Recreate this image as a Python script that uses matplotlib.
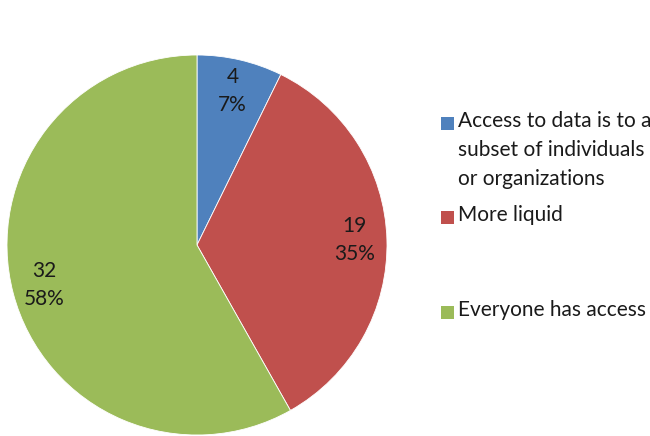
import matplotlib
matplotlib.use('Agg')
import matplotlib.pyplot as plt
import numpy as np
from matplotlib.patches import Rectangle

counts = [4, 19, 32]
labels = ['Access to data is to a\nsubset of individuals\nor organizations',
          'More liquid',
          'Everyone has access']
colors = ['#4F81BD', '#C0504D', '#9BBB59']

plt.rcParams['font.family'] = ['Lato', 'DejaVu Sans']

fig = plt.figure(figsize=(6.5, 4.36), dpi=100)
ax = fig.add_axes([7 / 650, 1 / 436, 380 / 650, 380 / 436])

total = sum(counts)

wedges = ax.pie(counts, colors=colors, startangle=90, counterclock=False,
                wedgeprops=dict(edgecolor='white', linewidth=0.6))[0]
# value / percent labels
for w, c in zip(wedges, counts):
    mid = np.deg2rad((w.theta1 + w.theta2) / 2)
    r = 0.83
    ax.text(r * np.cos(mid), r * np.sin(mid),
            '{}\n{:.0f}%'.format(c, 100.0 * c / total),
            ha='center', va='center', fontsize=15, color='#1a1a1a',
            linespacing=1.5)
ax.set_xlim(-1, 1)
ax.set_ylim(-1, 1)
ax.set_aspect('equal')

# legend, placed by hand (uneven spacing as in the original)
W, H = 650.0, 436.0
leg_y = [123, 217, 312]  # px from top, first line centre
for lab, col, y in zip(labels, colors, leg_y):
    fig.patches.append(Rectangle((441 / W, 1 - (y + 7) / H), 13 / W, 13 / H,
                                 transform=fig.transFigure, facecolor=col,
                                 edgecolor='none'))
    fig.text(458 / W, 1 - (y - 12) / H, lab, ha='left', va='top',
             fontsize=15, color='#1a1a1a', linespacing=1.55)

fig.savefig('out.png', dpi=100)
